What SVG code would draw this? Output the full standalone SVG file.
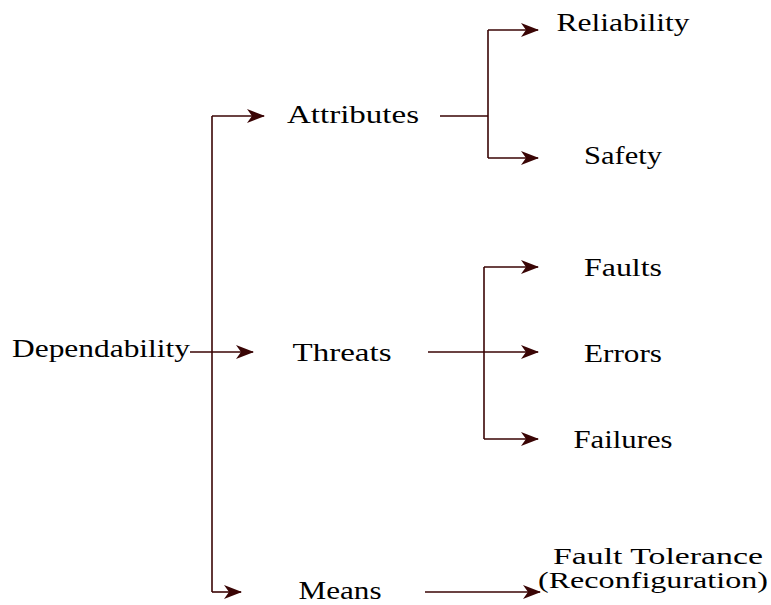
<svg xmlns="http://www.w3.org/2000/svg" width="771" height="605" viewBox="0 0 771 605">
  <style>
    .edge { stroke: #3a0505; stroke-width: 1.6; fill: none; }
    .arr { marker-end: url(#stealth); }
  </style>
  <defs>
    <marker id="stealth" viewBox="0 0 18 14" refX="17" refY="7" markerWidth="18" markerHeight="14" markerUnits="userSpaceOnUse" orient="auto">
      <path d="M0,0 L18,7 L0,14 L5,7 Z" fill="#3a0505"/>
    </marker>
  </defs>

  <g id="connectors">
    <!-- root trunk -->
    <path class="edge" d="M212,116 V592"/>
    <path class="edge arr" d="M190,352 H253"/>
    <path class="edge arr" d="M212,116 H264"/>
    <path class="edge arr" d="M212,592 H241"/>
    <!-- attributes branch -->
    <path class="edge" d="M440,116 H488 M488,30 V158"/>
    <path class="edge arr" d="M488,30 H538"/>
    <path class="edge arr" d="M488,158 H538"/>
    <!-- threats branch -->
    <path class="edge" d="M484,267 V439"/>
    <path class="edge arr" d="M428,352 H538"/>
    <path class="edge arr" d="M484,267 H538"/>
    <path class="edge arr" d="M484,439 H538"/>
    <!-- means branch -->
    <path class="edge arr" d="M425,592 H540"/>
  </g>

  <g font-family="Liberation Serif, DejaVu Serif, serif" font-size="25" fill="#000" text-anchor="middle">
    <g id="dependability"><text x="101" y="357" textLength="178" lengthAdjust="spacingAndGlyphs">Dependability</text></g>
    <g id="attributes"><text x="353" y="123" textLength="132" lengthAdjust="spacingAndGlyphs">Attributes</text></g>
    <g id="threats"><text x="342" y="361" textLength="99" lengthAdjust="spacingAndGlyphs">Threats</text></g>
    <g id="means"><text x="340" y="599" textLength="83" lengthAdjust="spacingAndGlyphs">Means</text></g>
    <g id="reliability"><text x="623" y="31" textLength="133" lengthAdjust="spacingAndGlyphs">Reliability</text></g>
    <g id="safety"><text x="623" y="164" textLength="78" lengthAdjust="spacingAndGlyphs">Safety</text></g>
    <g id="faults"><text x="623" y="276" textLength="78" lengthAdjust="spacingAndGlyphs">Faults</text></g>
    <g id="errors"><text x="623" y="362" textLength="78" lengthAdjust="spacingAndGlyphs">Errors</text></g>
    <g id="failures"><text x="623" y="448" textLength="99" lengthAdjust="spacingAndGlyphs">Failures</text></g>
    <g id="fault-tolerance" font-size="23">
      <text x="658" y="564" textLength="210" lengthAdjust="spacingAndGlyphs">Fault Tolerance</text>
      <text x="653" y="588" textLength="230" lengthAdjust="spacingAndGlyphs">(Reconfiguration)</text>
    </g>
  </g>
</svg>
